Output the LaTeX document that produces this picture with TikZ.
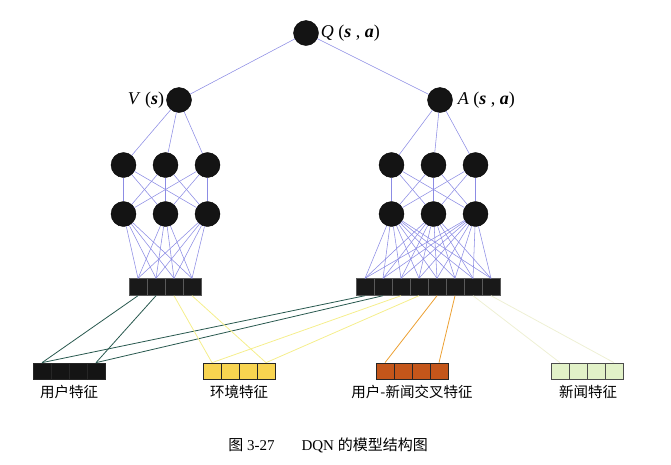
\documentclass[tikz,border=0pt]{standalone}
\usepackage{fontspec}
\setmainfont{Liberation Serif}
\newfontfamily\cjk{Noto Sans CJK SC}
\usepackage{tikz}
\usetikzlibrary{positioning}

\definecolor{netblue}{RGB}{140,140,228}
\definecolor{userln}{RGB}{40,88,78}
\definecolor{envln}{RGB}{245,238,140}
\definecolor{crossln}{RGB}{236,160,50}
\definecolor{newsln}{RGB}{238,240,212}
\definecolor{envfill}{RGB}{248,212,80}
\definecolor{crossfill}{RGB}{196,86,26}
\definecolor{newsfill}{RGB}{226,242,200}

\begin{document}
\begin{tikzpicture}[
  x=1pt, y=-1pt,
  neuron/.style={circle, fill=black!92, draw=black, minimum size=25pt, inner sep=0pt},
  cell/.style={draw=black!65, fill=black!90, minimum width=18pt, minimum height=17pt,
    inner sep=0pt, line width=0.4pt},
  feat/.style={draw=black!85, minimum width=18pt, minimum height=16pt,
    inner sep=0pt, line width=0.7pt},
  wire/.style={draw=netblue, line width=0.55pt},
  link/.style={line width=0.8pt},
  lab/.style={font=\fontsize{18}{18}\selectfont, inner sep=1pt},
  flab/.style={font=\cjk\fontsize{14.5}{15}\selectfont, inner sep=0pt}
]
  \useasboundingbox (0,0) rectangle (671,464);

  % output and the two streams
  \node[neuron] (Q) at (306,33) {};
  \node[neuron] (V) at (179,100) {};
  \node[neuron] (A) at (440,100) {};
  \node[lab, right=1pt of Q] (Qlab) {\textit{Q} (\textbf{\textit{s}} , \textbf{\textit{a}})};
  \node[lab, left=1pt of V] (Vlab) {\textit{V} (\textbf{\textit{s}})};
  \node[lab, right=4pt of A] (Alab) {\textit{A} (\textbf{\textit{s}} , \textbf{\textit{a}})};

  % hidden layers
  \foreach \x [count=\i] in {123.5,165.5,207.5} {
    \node[neuron] (vup\i) at (\x,165) {};
    \node[neuron] (vdn\i) at (\x,214) {};
  }
  \foreach \x [count=\i] in {391.5,433.5,475.5} {
    \node[neuron] (aup\i) at (\x,165) {};
    \node[neuron] (adn\i) at (\x,214) {};
  }

  % input bars
  \foreach \i in {1,...,4} \node[cell] (lb\i) at ({120+18*\i},287) {};
  \foreach \i in {1,...,8} \node[cell] (rb\i) at ({347+18*\i},287) {};

  % feature groups
  \foreach \i in {1,...,4} {
    \node[feat, fill=black!92] (u\i) at ({24+18*\i},371) {};
    \node[feat, fill=envfill] (e\i) at ({194+18*\i},371) {};
    \node[feat, fill=crossfill] (c\i) at ({367+18*\i},371) {};
    \node[feat, fill=newsfill, draw=black!70] (n\i) at ({542+18*\i},371) {};
  }
  \node[flab] (ulab) at (69,392) {用户特征};
  \node[flab] (elab) at (239,392) {环境特征};
  \node[flab] (clab) at (412,392) {用户-新闻交叉特征};
  \node[flab] (nlab) at (588,392) {新闻特征};

  % network wiring
  \draw[wire] (Q) -- (V);
  \draw[wire] (Q) -- (A);
  \foreach \i in {1,2,3} {
    \draw[wire] (V) -- (vup\i);
    \draw[wire] (A) -- (aup\i);
    \foreach \j in {1,2,3} {
      \draw[wire] (vup\i) -- (vdn\j);
      \draw[wire] (aup\i) -- (adn\j);
    }
    \foreach \j in {1,...,4} \draw[wire] (vdn\i) -- (lb\j.north);
    \foreach \j in {1,...,8} \draw[wire] (adn\i) -- (rb\j.north);
  }

  % feature links
  \draw[link, userln] (lb1.south) -- (u1.north);
  \draw[link, userln] (lb2.south) -- (u4.north);
  \draw[link, userln] (rb1.south) -- (u1.north);
  \draw[link, userln] (rb2.south) -- (u4.north);
  \draw[link, envln] (lb3.south) -- (e1.north);
  \draw[link, envln] (lb4.south) -- (e4.north);
  \draw[link, envln] (rb3.south) -- (e1.north);
  \draw[link, envln] (rb4.south) -- (e4.north);
  \draw[link, crossln] (rb5.south) -- (c1.north);
  \draw[link, crossln] (rb6.south) -- (c4.north);
  \draw[link, newsln] (rb7.south) -- (n1.north);
  \draw[link, newsln] (rb8.south) -- (n4.north);

  \node[font=\fontsize{15}{15}\selectfont] (cap) at (328,445)
    {{\cjk 图} 3-27\hspace{1.8em}DQN {\cjk 的模型结构图}};
\end{tikzpicture}
\end{document}
